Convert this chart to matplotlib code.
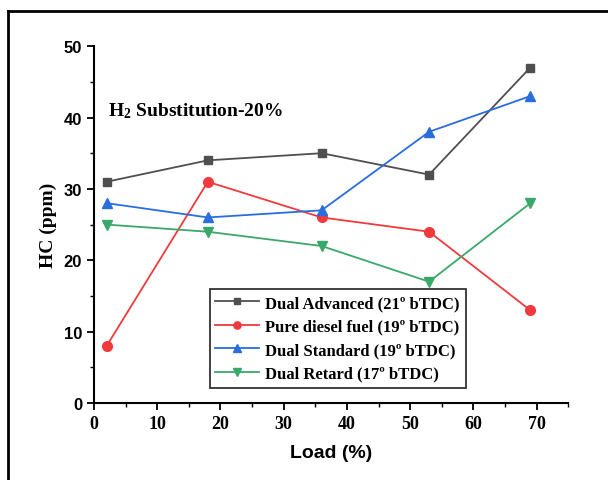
import matplotlib
matplotlib.use('Agg')
import matplotlib.pyplot as plt
from matplotlib.lines import Line2D
from matplotlib.ticker import MultipleLocator

plt.rcParams['mathtext.default'] = 'regular'

# data
load = [2, 18, 36, 53, 69]
dual_adv = [31, 34, 35, 32, 47]
pure_diesel = [8, 31, 26, 24, 13]
dual_std = [28, 26, 27, 38, 43]
dual_ret = [25, 24, 22, 17, 28]

labels = ['Dual Advanced (21º bTDC)', 'Pure diesel fuel (19º bTDC)',
          'Dual Standard (19º bTDC)', 'Dual Retard (17º bTDC)']

serif = 'Liberation Serif'
sans = 'Liberation Sans'

fig = plt.figure(figsize=(6.08, 4.81), dpi=100)
ax = fig.add_axes([0.1546, 0.160, 0.780, 0.742])

ax.plot(load, dual_adv, color='#4f4f4f', marker='s', markersize=6, lw=1.3, label=labels[0])
ax.plot(load, pure_diesel, color='#f03a3c', marker='o', markersize=7, lw=1.3, label=labels[1])
ax.plot(load, dual_std, color='#2a6ddc', marker='^', markersize=7, lw=1.3, label=labels[2])
ax.plot(load, dual_ret, color='#3aa86a', marker='v', markersize=7, lw=1.3, label=labels[3])

ax.set_xlim(0, 75)
ax.set_ylim(0, 50)
ax.xaxis.set_major_locator(MultipleLocator(10))
ax.xaxis.set_minor_locator(MultipleLocator(5))
ax.yaxis.set_major_locator(MultipleLocator(10))
ax.yaxis.set_minor_locator(MultipleLocator(5))
ax.spines['top'].set_visible(False)
ax.spines['right'].set_visible(False)
for s in ['left', 'bottom']:
    ax.spines[s].set_linewidth(1.5)
ax.tick_params(which='major', direction='out', length=5, width=1.3)
ax.tick_params(which='minor', direction='out', length=3, width=1.0)

for t in ax.get_xticklabels():
    t.set_fontfamily(serif)
    t.set_fontweight('bold')
    t.set_fontsize(13)
for t in ax.get_yticklabels():
    t.set_fontfamily(sans)
    t.set_fontweight('bold')
    t.set_fontsize(12)

ax.set_xlabel('Load (%)', fontfamily=sans, fontweight='bold', fontsize=14, labelpad=9)
ax.set_ylabel('HC (ppm)', fontfamily=serif, fontweight='bold', fontsize=14, labelpad=5)

ax.text(0.03, 0.805, 'H$_2$ Substitution-20%', transform=ax.transAxes,
        fontfamily=serif, fontweight='bold', fontsize=14)

leg = ax.legend(loc='lower left', bbox_to_anchor=(0.226, 0.02), frameon=True,
                fancybox=False, edgecolor='black', handlelength=2.6,
                borderpad=0.35, labelspacing=0.45, handletextpad=0.4,
                markerscale=0.75,
                prop={'family': serif, 'weight': 'bold', 'size': 12})
leg.get_frame().set_linewidth(1.3)

# outer frame of the cropped figure
fig.add_artist(Line2D([8 / 608, 8 / 608], [0, 1 - 12 / 481], transform=fig.transFigure,
                      color='black', lw=2))
fig.add_artist(Line2D([8 / 608, 1], [1 - 12 / 481, 1 - 12 / 481], transform=fig.transFigure,
                      color='black', lw=2))

fig.savefig('out.png', dpi=100)
